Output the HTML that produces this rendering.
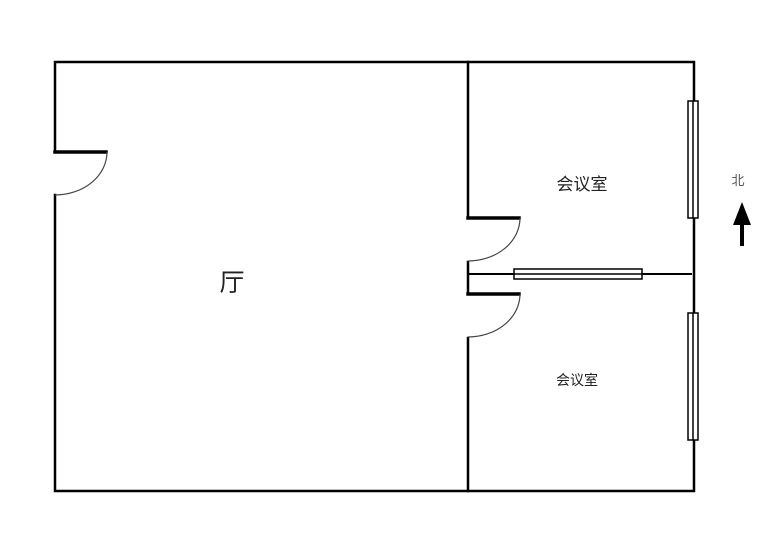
<!DOCTYPE html>
<html><head><meta charset="utf-8"><style>
html,body{margin:0;padding:0;background:#fff;width:770px;height:538px;overflow:hidden}
text{font-family:"Liberation Sans","Noto Sans CJK SC",sans-serif}
</style></head><body>
<svg width="770" height="538" viewBox="0 0 770 538" xmlns="http://www.w3.org/2000/svg">
<g stroke="#000" stroke-width="2.5" fill="none" stroke-linecap="square">
<!-- outer -->
<polyline points="55,152 55,62 694,62 694,101"/>
<polyline points="55,195 55,491 694,491 694,440"/>
<line x1="694" y1="218" x2="694" y2="313"/>
<!-- partition -->
<line x1="468" y1="62" x2="468" y2="218"/>
<line x1="468" y1="262" x2="468" y2="294"/>
<line x1="468" y1="338" x2="468" y2="491"/>
<!-- door leaves -->
<line x1="55" y1="152" x2="106" y2="152" stroke-width="3.5"/>
<line x1="468" y1="218" x2="519" y2="218" stroke-width="3.5"/>
<line x1="468" y1="294" x2="519" y2="294" stroke-width="3.5"/>
<!-- horizontal wall -->
<line x1="468" y1="274" x2="691" y2="274" stroke-width="2"/>
</g>
<g stroke="#444" stroke-width="1.2" fill="none">
<path d="M107,152 A52,43 0 0 1 55,195"/>
<path d="M520,218 A52,43 0 0 1 468,261"/>
<path d="M520,294 A52,43 0 0 1 468,337"/>
</g>
<g stroke="#000" stroke-width="1.5" fill="#fff">
<rect x="514" y="269" width="128" height="10"/>
<line x1="514" y1="274" x2="642" y2="274"/>
<rect x="688" y="101" width="10" height="117"/>
<line x1="693" y1="101" x2="693" y2="218"/>
<rect x="688" y="313" width="10" height="127"/>
<line x1="693" y1="313" x2="693" y2="440"/>
</g>
<!-- north arrow -->
<polygon points="742,202 733,225 751,225" fill="#000"/>
<rect x="740" y="222" width="4" height="24" fill="#000"/>
<text x="738" y="185" font-size="13" fill="#555" text-anchor="middle">北</text>
<text x="582" y="190" font-size="17" fill="#222" text-anchor="middle">会议室</text>
<text x="577" y="385" font-size="14" fill="#222" text-anchor="middle">会议室</text>
<text x="232" y="291" font-size="25" fill="#222" text-anchor="middle">厅</text>
</svg>
</body></html>
